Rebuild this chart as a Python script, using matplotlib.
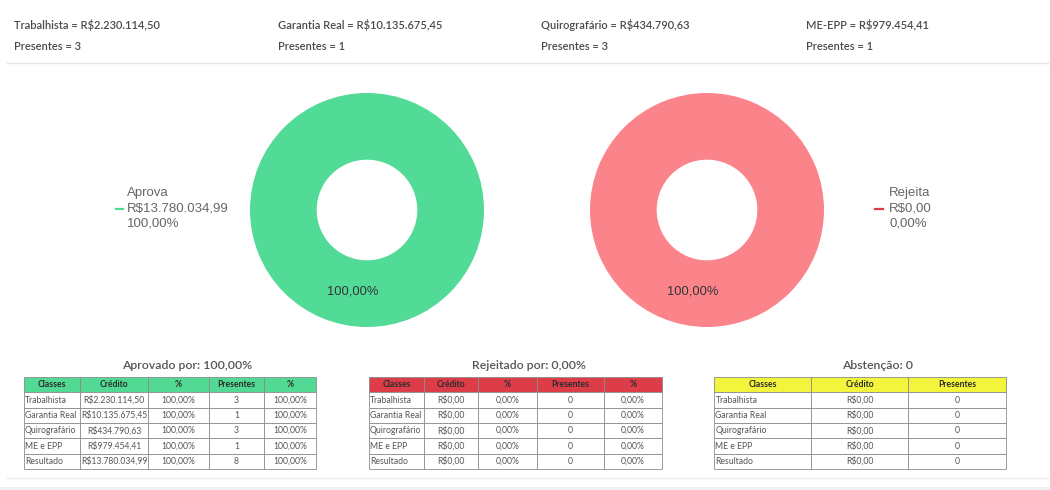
import matplotlib.pyplot as plt
from matplotlib.lines import Line2D


# ---- data ----
classes = ['Trabalhista', 'Garantia Real', 'Quirografário', 'ME e EPP', 'Resultado']
header_names = ['Trabalhista', 'Garantia Real', 'Quirografário', 'ME-EPP']
header_credito = [2230114.50, 10135675.45, 434790.63, 979454.41]
header_presentes = [3, 1, 3, 1]

aprov_credito = [2230114.50, 10135675.45, 434790.63, 979454.41, 13780034.99]
aprov_pct = [100.0, 100.0, 100.0, 100.0, 100.0]
aprov_presentes = [3, 1, 3, 1, 8]
aprov_pres_pct = [100.0, 100.0, 100.0, 100.0, 100.0]

rej_credito = [0.0, 0.0, 0.0, 0.0, 0.0]
rej_pct = [0.0, 0.0, 0.0, 0.0, 0.0]
rej_presentes = [0, 0, 0, 0, 0]
rej_pres_pct = [0.0, 0.0, 0.0, 0.0, 0.0]

abst_credito = [0.0, 0.0, 0.0, 0.0, 0.0]
abst_presentes = [0, 0, 0, 0, 0]

donut_labels = ['Aprova', 'Rejeita']
donut_valor = [13780034.99, 0.0]
donut_pct = [100.0, 0.0]
ring_share = [100.0, 100.0]   # what each ring shows

aprovado_por = 100.0
rejeitado_por = 0.0
abstencao = 0

GREEN = '#52db97'
RED = '#fb848b'
FS = 'Lato'
ARIAL = 'Liberation Sans'


def brl(v):
    s = f'{v:,.2f}'.replace(',', 'X').replace('.', ',').replace('X', '.')
    return 'R$' + s


def pct(v):
    return f'{v:.2f}'.replace('.', ',') + '%'


fig = plt.figure(figsize=(10.5, 4.9), dpi=100)
ax = fig.add_axes([0, 0, 1, 1])
ax.set_xlim(0, 1050)
ax.set_ylim(490, 0)
ax.axis('off')

# header
for i, x in enumerate([14, 278, 541, 806]):
    ax.text(x, 25, f'{header_names[i]} = {brl(header_credito[i])}', fontsize=8.0,
            family=FS, color='#4a4a4a', va='center', ha='left', fontweight='semibold')
    ax.text(x, 46, f'Presentes = {header_presentes[i]}', fontsize=8.0,
            family=FS, color='#4a4a4a', va='center', ha='left', fontweight='semibold')
ax.add_line(Line2D([7, 1048], [63, 63], color='#e6e6e6', lw=1))

# donuts
for cx, color, share in [(367, GREEN, ring_share[0]), (707, RED, ring_share[1])]:
    r = 117
    pax = fig.add_axes([(cx - r) / 1050, 1 - (210 + r) / 490, 2 * r / 1050, 2 * r / 490])
    pax.pie([share], colors=[color], startangle=80, radius=1,
            wedgeprops=dict(width=1 - 0.43, linewidth=0),
            autopct=lambda p: pct(p), pctdistance=0.71,
            textprops=dict(family=ARIAL, fontsize=9.3, color='#333333'))
    pax.set_xlim(-1, 1)
    pax.set_ylim(-1, 1)
    pax.set_aspect('equal')
    pax.axis('off')

# donut legends
for (x0, x1, tx), color, i in [((116, 123, 127), '#52d994', 0), ((875, 883, 889), '#dc3d48', 1)]:
    ax.add_line(Line2D([x0, x1], [209, 209], color=color, lw=1.6))
    for y, s in zip([193, 208, 223], [donut_labels[i], brl(donut_valor[i]), pct(donut_pct[i])]):
        ax.text(tx, y, s, family=ARIAL, fontsize=9.5, color='#666666', va='center', ha='left')

# table titles
ax.text(187, 365, f'Aprovado por: {pct(aprovado_por)}', family=FS, fontsize=8.8,
        color='#555555', ha='center', va='center', fontweight='semibold')
ax.text(529, 365, f'Rejeitado por: {pct(rejeitado_por)}', family=FS, fontsize=8.8,
        color='#555555', ha='center', va='center', fontweight='semibold')
ax.text(878, 365, f'Abstenção: {abstencao}', family=FS, fontsize=8.8,
        color='#555555', ha='center', va='center', fontweight='semibold')


def make_table(rows, cols, widths, x0, x1, head_color):
    y0, y1 = 377, 469
    tb = ax.table(cellText=rows, colLabels=cols, colWidths=widths, cellLoc='center',
                  bbox=[x0 / 1050, 1 - y1 / 490, (x1 - x0) / 1050, (y1 - y0) / 490])
    tb.auto_set_font_size(False)
    tb.set_fontsize(6.2)
    for (r, c), cell in tb.get_celld().items():
        cell.set_edgecolor('#8c8c8c')
        cell.set_linewidth(0.6)
        t = cell.get_text()
        t.set_fontfamily(FS)
        if r == 0:
            cell.set_facecolor(head_color)
            t.set_fontweight('bold')
            t.set_color('#2b2b2b')
        else:
            t.set_color('#555555')
            if c == 0:
                cell._loc = 'left'
                cell.PAD = 0.015
                t.set_ha('left')
    return tb


rows1 = [[classes[i], brl(aprov_credito[i]), pct(aprov_pct[i]), str(aprov_presentes[i]),
          pct(aprov_pres_pct[i])] for i in range(5)]
rows2 = [[classes[i], brl(rej_credito[i]), pct(rej_pct[i]), str(rej_presentes[i]),
          pct(rej_pres_pct[i])] for i in range(5)]
rows3 = [[classes[i], brl(abst_credito[i]), str(abst_presentes[i])] for i in range(5)]

make_table(rows1, ['Classes', 'Crédito', '%', 'Presentes', '%'], [56, 68, 61, 55, 52], 24, 316, '#52d994')
make_table(rows2, ['Classes', 'Crédito', '%', 'Presentes', '%'], [55, 54, 59, 67, 58], 369, 662, '#dc3d48')
make_table(rows3, ['Classes', 'Crédito', 'Presentes'], [97, 97, 98], 714, 1006, '#f2f53c')

# bottom separators
ax.add_line(Line2D([7, 1048], [478, 478], color='#eeeeee', lw=1))
ax.axhspan(487, 490, color='#f0f0f4', lw=0)

fig.savefig('out.png', dpi=100)
